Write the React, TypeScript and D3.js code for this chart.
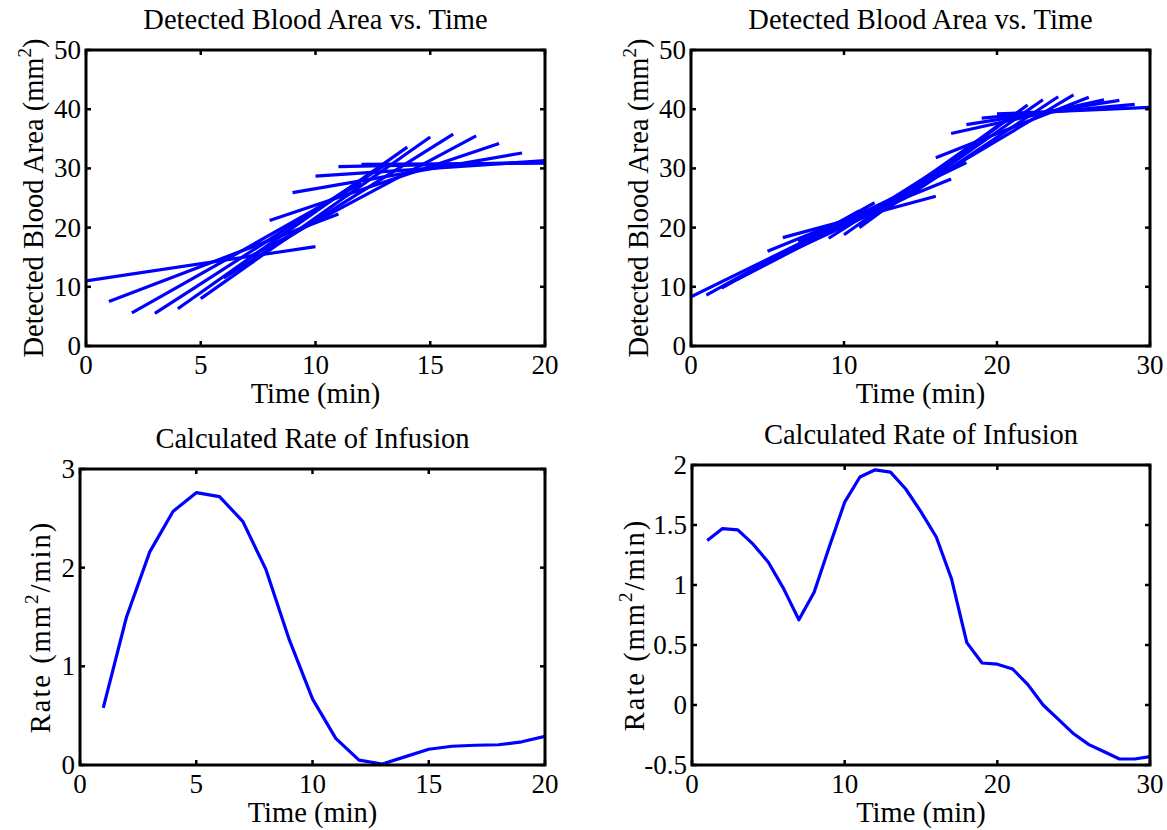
import React from "react";
import * as d3 from "d3";

// ---- data ----
// top-left: linear fits over sliding 10-minute windows (20 min recording)
const tlFitStart = [0, 1, 2, 3, 4, 5, 6, 7, 8, 9, 10, 11, 12];
const tlFitEnd = [10, 11, 12, 13, 14, 15, 16, 17, 18, 19, 20, 20, 20];
const tlFitStartArea = [11.0, 7.5, 5.6, 5.5, 6.3, 8.0, 11.5, 14.8, 21.2, 25.9, 28.7, 30.3, 30.7];
const tlFitEndArea = [16.8, 22.3, 27.5, 30.5, 33.6, 35.3, 35.8, 35.5, 34.2, 32.6, 31.3, 31.0, 30.9];

// top-right: linear fits over sliding 10-minute windows (30 min recording)
const trFitStart = [0, 1, 2, 3, 4, 5, 6, 7, 8, 9, 10, 11, 12, 13, 14, 15, 16, 17, 18, 19, 20];
const trFitEnd = [10, 11, 12, 13, 14, 15, 16, 17, 18, 19, 20, 21, 22, 23, 24, 25, 26, 27, 28, 29, 30];
const trFitStartArea = [8.3, 8.6, 9.8, 11.2, 13.0, 16.0, 18.3, 17.7, 18.5, 18.2, 18.8, 20.0, 22.0, 23.5, 25.0, 27.0, 31.8, 35.9, 37.4, 38.5, 39.2];
const trFitEndArea = [21.0, 22.8, 24.2, 24.6, 25.0, 26.5, 25.3, 28.2, 31.0, 34.5, 37.0, 39.0, 40.7, 41.6, 42.1, 42.4, 42.0, 41.6, 41.5, 40.8, 40.3];

// bottom-left: rate of infusion (20 min)
const blTime = [1, 2, 3, 4, 5, 6, 7, 8, 9, 10, 11, 12, 13, 14, 15, 16, 17, 18, 19, 20];
const blRate = [0.58, 1.5, 2.16, 2.57, 2.76, 2.72, 2.47, 1.98, 1.27, 0.67, 0.27, 0.05, 0.01, 0.085, 0.16, 0.19, 0.2, 0.205, 0.235, 0.29];

// bottom-right: rate of infusion (30 min)
const brTime = [1, 2, 3, 4, 5, 6, 7, 8, 9, 10, 11, 12, 13, 14, 15, 16, 17, 18, 19, 20, 21, 22, 23, 24, 25, 26, 27, 28, 29, 30];
const brRate = [1.37, 1.47, 1.46, 1.34, 1.19, 0.97, 0.71, 0.94, 1.32, 1.69, 1.9, 1.96, 1.94, 1.8, 1.61, 1.4, 1.05, 0.52, 0.35, 0.34, 0.3, 0.17, 0.0, -0.12, -0.24, -0.33, -0.39, -0.45, -0.45, -0.43];

const ticks20 = [0, 5, 10, 15, 20];
const ticks30 = [0, 10, 20, 30];
const areaTicks = [0, 10, 20, 30, 40, 50];
const blRateTicks = [0, 1, 2, 3];
const brRateTicks = [-0.5, 0, 0.5, 1, 1.5, 2];

const titleArea = "Detected Blood Area vs. Time";
const titleRate = "Calculated Rate of Infusion";
const xLabel = "Time (min)";

const FONT = "Liberation Serif";
const BLUE = "#0000ff";
const tickTxt: React.CSSProperties = { fontFamily: FONT, fontSize: 27 };
const labTxt: React.CSSProperties = { fontFamily: FONT, fontSize: 28.5 };

type Panel = {
  left: number; right: number; top: number; bottom: number;
  xDomain: [number, number]; yDomain: [number, number];
  xTicks: number[]; yTicks: number[];
  title: string; yLabel: "area" | "rate"; yLabelX: number;
};

function Axes({ p, children }: { p: Panel; children: (x: d3.ScaleLinear<number, number>, y: d3.ScaleLinear<number, number>) => React.ReactNode }) {
  const x = d3.scaleLinear().domain(p.xDomain).range([p.left, p.right]);
  const y = d3.scaleLinear().domain(p.yDomain).range([p.bottom, p.top]);
  const tk = 5;
  const fmt = (v: number) => (v < 0 ? "-" : "") + d3.format("~g")(Math.abs(v));
  const cy = (p.top + p.bottom) / 2;
  const id = `clip-${p.left}-${p.top}`;
  return (
    <g>
      <defs>
        <clipPath id={id}>
          <rect x={p.left} y={p.top} width={p.right - p.left} height={p.bottom - p.top} />
        </clipPath>
      </defs>
      <g clipPath={`url(#${id})`}>{children(x, y)}</g>
      {/* ticks inside, on all four sides */}
      {p.xTicks.map((t) => (
        <g key={"xt" + t} stroke="#000" strokeWidth={2.5}>
          <line x1={x(t)} x2={x(t)} y1={p.bottom} y2={p.bottom - tk} />
          <line x1={x(t)} x2={x(t)} y1={p.top} y2={p.top + tk} />
        </g>
      ))}
      {p.yTicks.map((t) => (
        <g key={"yt" + t} stroke="#000" strokeWidth={2.5}>
          <line x1={p.left} x2={p.left + tk} y1={y(t)} y2={y(t)} />
          <line x1={p.right} x2={p.right - tk} y1={y(t)} y2={y(t)} />
        </g>
      ))}
      <rect x={p.left} y={p.top} width={p.right - p.left} height={p.bottom - p.top} fill="none" stroke="#000" strokeWidth={3} />
      {p.xTicks.map((t) => (
        <text key={"xl" + t} x={x(t)} y={p.bottom + 28} textAnchor="middle" style={tickTxt}>{fmt(t)}</text>
      ))}
      {p.yTicks.map((t) => (
        <text key={"yl" + t} x={p.left - 5} y={y(t) + 9} textAnchor="end" style={tickTxt}>{fmt(t)}</text>
      ))}
      <text x={(p.left + p.right) / 2} y={p.top - 21} textAnchor="middle" style={labTxt}>{p.title}</text>
      <text x={(p.left + p.right) / 2} y={p.bottom + 57} textAnchor="middle" style={labTxt}>{xLabel}</text>
      {p.yLabel === "area" ? (
        <text transform={`translate(${p.yLabelX},${cy}) rotate(-90)`} textAnchor="middle" style={labTxt}>
          Detected Blood Area (mm<tspan dy={-12} style={{ fontSize: 19 }}>2</tspan><tspan dy={12}>)</tspan>
        </text>
      ) : (
        <text transform={`translate(${p.yLabelX},${cy + 10}) rotate(-90)`} textAnchor="middle" style={{ ...labTxt, letterSpacing: 2 }}>
          Rate (mm<tspan dy={-12} style={{ fontSize: 19 }}>2</tspan><tspan dy={12}>/min)</tspan>
        </text>
      )}
    </g>
  );
}

function Fits({ x, y, t0, t1, v0, v1 }: { x: any; y: any; t0: number[]; t1: number[]; v0: number[]; v1: number[] }) {
  const line = d3.line<[number, number]>().x((d) => x(d[0])).y((d) => y(d[1]));
  return (
    <g fill="none" stroke={BLUE} strokeWidth={3.2}>
      {t0.map((t, i) => (
        <path key={i} d={line([[t, v0[i]], [t1[i], v1[i]]]) || ""} />
      ))}
    </g>
  );
}

function Curve({ x, y, ts, vs }: { x: any; y: any; ts: number[]; vs: number[] }) {
  const line = d3.line<number>().x((_, i) => x(ts[i])).y((d) => y(d));
  return <path d={line(vs) || ""} fill="none" stroke={BLUE} strokeWidth={3.2} strokeLinejoin="round" />;
}

const panels: Panel[] = [
  { left: 86, right: 545, top: 50, bottom: 346, xDomain: [0, 20], yDomain: [0, 50], xTicks: ticks20, yTicks: areaTicks, title: titleArea, yLabel: "area", yLabelX: 43 },
  { left: 691, right: 1150, top: 50, bottom: 346, xDomain: [0, 30], yDomain: [0, 50], xTicks: ticks30, yTicks: areaTicks, title: titleArea, yLabel: "area", yLabelX: 648 },
  { left: 80, right: 545, top: 469, bottom: 765, xDomain: [0, 20], yDomain: [0, 3], xTicks: ticks20, yTicks: blRateTicks, title: titleRate, yLabel: "rate", yLabelX: 50 },
  { left: 692, right: 1150, top: 465, bottom: 765, xDomain: [0, 30], yDomain: [-0.5, 2], xTicks: ticks30, yTicks: brRateTicks, title: titleRate, yLabel: "rate", yLabelX: 644 },
];

export default function App() {
  return (
    <svg width={1167} height={830} style={{ position: "absolute", left: 0, top: 0, background: "#fff" }}>
      <rect width={1167} height={830} fill="#fff" />
      <Axes p={panels[0]}>{(x, y) => <Fits x={x} y={y} t0={tlFitStart} t1={tlFitEnd} v0={tlFitStartArea} v1={tlFitEndArea} />}</Axes>
      <Axes p={panels[1]}>{(x, y) => <Fits x={x} y={y} t0={trFitStart} t1={trFitEnd} v0={trFitStartArea} v1={trFitEndArea} />}</Axes>
      <Axes p={panels[2]}>{(x, y) => <Curve x={x} y={y} ts={blTime} vs={blRate} />}</Axes>
      <Axes p={panels[3]}>{(x, y) => <Curve x={x} y={y} ts={brTime} vs={brRate} />}</Axes>
    </svg>
  );
}
